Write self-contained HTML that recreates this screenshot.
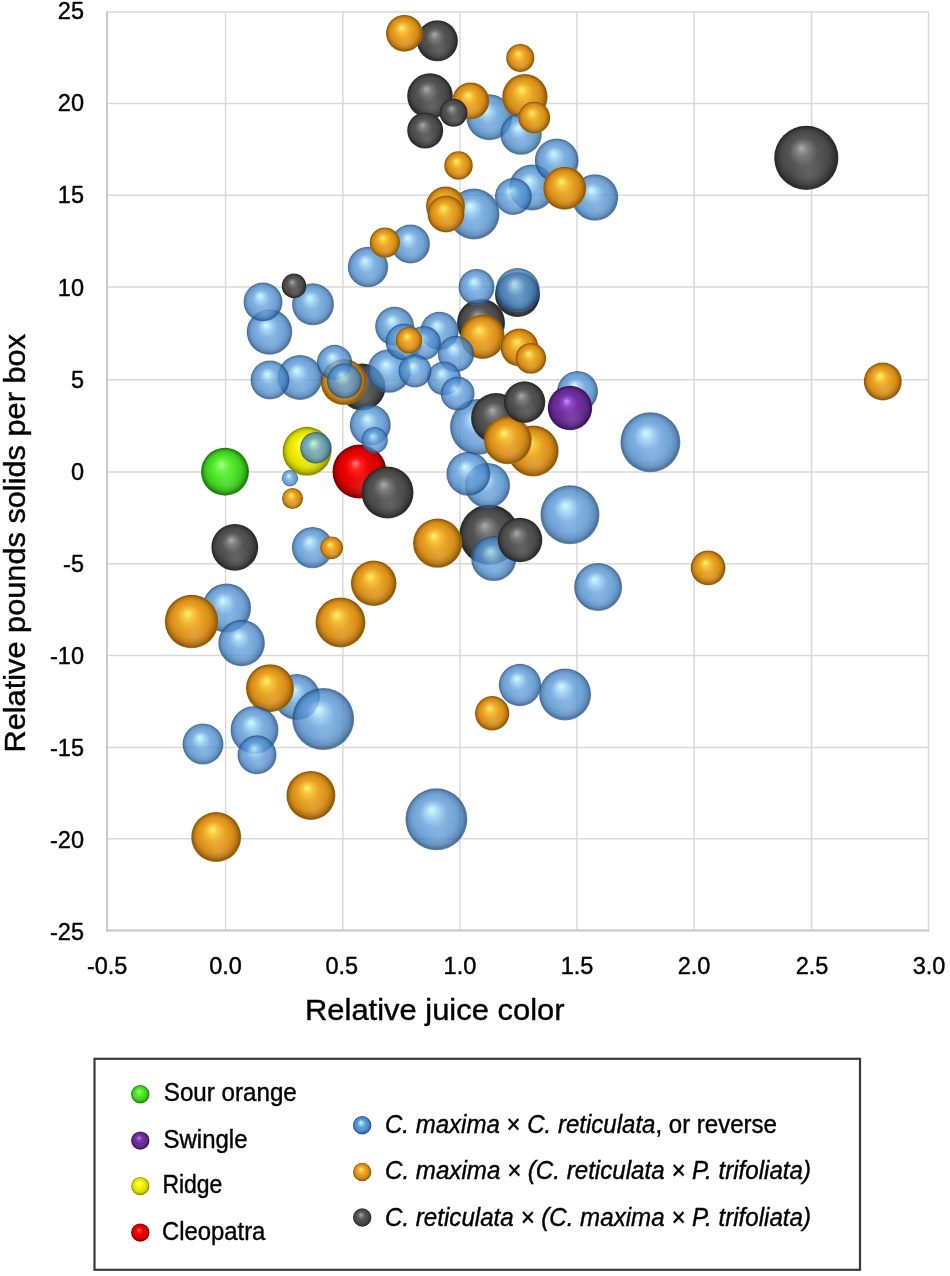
<!DOCTYPE html>
<html><head><meta charset="utf-8"><title>Bubble chart</title>
<style>
html,body{margin:0;padding:0;background:#fff;}
body{width:950px;height:1276px;overflow:hidden;}
svg{display:block;}
text{font-family:"Liberation Sans",Arial,sans-serif;fill:#000;stroke:#000;stroke-width:0.4px;}
</style></head><body>
<svg width="950" height="1276" viewBox="0 0 950 1276">
<defs>
<radialGradient id="gB" cx="0.5" cy="0.5" r="0.5" fx="0.42" fy="0.34">
<stop offset="0" stop-color="#c0ffff"/><stop offset="0.2" stop-color="#95cdf2"/><stop offset="0.45" stop-color="#5e9cdb"/>
<stop offset="0.72" stop-color="#4c8bc9"/><stop offset="0.87" stop-color="#3772ae"/><stop offset="0.96" stop-color="#224a7c"/><stop offset="1" stop-color="#3772ae"/></radialGradient>
<radialGradient id="gO" cx="0.5" cy="0.5" r="0.5" fx="0.42" fy="0.34">
<stop offset="0" stop-color="#fff47c"/><stop offset="0.2" stop-color="#f8c63e"/><stop offset="0.45" stop-color="#e9a222"/>
<stop offset="0.72" stop-color="#d78e19"/><stop offset="0.87" stop-color="#b57212"/><stop offset="0.96" stop-color="#8a580a"/><stop offset="1" stop-color="#b57212"/></radialGradient>
<radialGradient id="gG" cx="0.5" cy="0.5" r="0.5" fx="0.42" fy="0.34">
<stop offset="0" stop-color="#acacac"/><stop offset="0.2" stop-color="#7c7c7c"/><stop offset="0.45" stop-color="#555555"/>
<stop offset="0.72" stop-color="#4a4a4a"/><stop offset="0.87" stop-color="#3a3a3a"/><stop offset="0.96" stop-color="#282828"/><stop offset="1" stop-color="#3a3a3a"/></radialGradient>
<radialGradient id="gGR" cx="0.5" cy="0.5" r="0.5" fx="0.42" fy="0.34">
<stop offset="0" stop-color="#b0ff90"/><stop offset="0.2" stop-color="#70f848"/><stop offset="0.45" stop-color="#4ee82a"/>
<stop offset="0.72" stop-color="#40d020"/><stop offset="0.87" stop-color="#30a816"/><stop offset="0.96" stop-color="#1c780c"/><stop offset="1" stop-color="#30a816"/></radialGradient>
<radialGradient id="gY" cx="0.5" cy="0.5" r="0.5" fx="0.42" fy="0.34">
<stop offset="0" stop-color="#ffffa0"/><stop offset="0.2" stop-color="#ffff30"/><stop offset="0.45" stop-color="#f0f000"/>
<stop offset="0.72" stop-color="#dede00"/><stop offset="0.87" stop-color="#b8b800"/><stop offset="0.96" stop-color="#8a8a00"/><stop offset="1" stop-color="#b8b800"/></radialGradient>
<radialGradient id="gR" cx="0.5" cy="0.5" r="0.5" fx="0.42" fy="0.34">
<stop offset="0" stop-color="#ff8080"/><stop offset="0.2" stop-color="#ff2020"/><stop offset="0.45" stop-color="#ee0000"/>
<stop offset="0.72" stop-color="#d80000"/><stop offset="0.87" stop-color="#b00000"/><stop offset="0.96" stop-color="#7a0000"/><stop offset="1" stop-color="#b00000"/></radialGradient>
<radialGradient id="gP" cx="0.5" cy="0.5" r="0.5" fx="0.42" fy="0.34">
<stop offset="0" stop-color="#d090ff"/><stop offset="0.2" stop-color="#9048c8"/><stop offset="0.45" stop-color="#7030a0"/>
<stop offset="0.72" stop-color="#642a90"/><stop offset="0.87" stop-color="#502078"/><stop offset="0.96" stop-color="#381458"/><stop offset="1" stop-color="#502078"/></radialGradient>
<radialGradient id="refl" cx="0.56" cy="0.76" r="0.3">
<stop offset="0" stop-color="#fff" stop-opacity="0.12"/><stop offset="1" stop-color="#fff" stop-opacity="0"/></radialGradient>
</defs>
<g stroke="#d9d9d9" stroke-width="1.5"><line x1="225.6" y1="12" x2="225.6" y2="930.5"/><line x1="342.9" y1="12" x2="342.9" y2="930.5"/><line x1="459.9" y1="12" x2="459.9" y2="930.5"/><line x1="577" y1="12" x2="577" y2="930.5"/><line x1="694.1" y1="12" x2="694.1" y2="930.5"/><line x1="811.6" y1="12" x2="811.6" y2="930.5"/><line x1="928.5" y1="12" x2="928.5" y2="930.5"/><line x1="107" y1="12" x2="928.5" y2="12"/><line x1="107" y1="103.5" x2="928.5" y2="103.5"/><line x1="107" y1="195.3" x2="928.5" y2="195.3"/><line x1="107" y1="286.9" x2="928.5" y2="286.9"/><line x1="107" y1="379.7" x2="928.5" y2="379.7"/><line x1="107" y1="472.1" x2="928.5" y2="472.1"/><line x1="107" y1="563.7" x2="928.5" y2="563.7"/><line x1="107" y1="655.4" x2="928.5" y2="655.4"/><line x1="107" y1="747.4" x2="928.5" y2="747.4"/><line x1="107" y1="838.8" x2="928.5" y2="838.8"/></g>
<g stroke="#c4c4c4" stroke-width="1.8"><line x1="107" y1="11.2" x2="107" y2="931.5"/><line x1="106" y1="930.5" x2="929.3" y2="930.5"/></g>
<g font-size="23.5"><text x="84" y="19.4" text-anchor="end">25</text><text x="84" y="111.4" text-anchor="end">20</text><text x="84" y="203.4" text-anchor="end">15</text><text x="84" y="295.5" text-anchor="end">10</text><text x="84" y="387.5" text-anchor="end">5</text><text x="84" y="479.6" text-anchor="end">0</text><text x="84" y="571.6" text-anchor="end">-5</text><text x="84" y="663.7" text-anchor="end">-10</text><text x="84" y="755.8" text-anchor="end">-15</text><text x="84" y="847.8" text-anchor="end">-20</text><text x="84" y="939.9" text-anchor="end">-25</text><text x="107.2" y="974.4" text-anchor="middle">-0.5</text><text x="225.6" y="974.4" text-anchor="middle">0.0</text><text x="341.8" y="974.4" text-anchor="middle">0.5</text><text x="459.9" y="974.4" text-anchor="middle">1.0</text><text x="577.0" y="974.4" text-anchor="middle">1.5</text><text x="694.1" y="974.4" text-anchor="middle">2.0</text><text x="812.0" y="974.4" text-anchor="middle">2.5</text><text x="929.0" y="974.4" text-anchor="middle">3.0</text></g>
<text x="305" y="1020.4" font-size="29.5" textLength="259.5" lengthAdjust="spacingAndGlyphs">Relative juice color</text>
<text transform="translate(25.4 752.5) rotate(-90)" x="0" y="0" font-size="29.5" textLength="418.5" lengthAdjust="spacingAndGlyphs">Relative pounds solids per box</text>
<g><circle cx="225" cy="471.7" r="24" fill="url(#gGR)"/><circle cx="225" cy="471.7" r="24" fill="url(#refl)"/><circle cx="307" cy="451.3" r="24.5" fill="url(#gY)"/><circle cx="307" cy="451.3" r="24.5" fill="url(#refl)"/><circle cx="359.5" cy="471.6" r="27" fill="url(#gR)"/><circle cx="359.5" cy="471.6" r="27" fill="url(#refl)"/><circle cx="226.6" cy="608" r="24.5" fill="url(#gB)" fill-opacity="0.8"/><circle cx="226.6" cy="608" r="24.5" fill="url(#refl)"/><circle cx="297" cy="697" r="23" fill="url(#gB)" fill-opacity="0.8"/><circle cx="297" cy="697" r="23" fill="url(#refl)"/><circle cx="806.3" cy="157.9" r="32.1" fill="url(#gG)"/><circle cx="806.3" cy="157.9" r="32.1" fill="url(#refl)"/><circle cx="323.2" cy="719" r="31" fill="url(#gB)" fill-opacity="0.8"/><circle cx="323.2" cy="719" r="31" fill="url(#refl)"/><circle cx="436.4" cy="819.3" r="31" fill="url(#gB)" fill-opacity="0.8"/><circle cx="436.4" cy="819.3" r="31" fill="url(#refl)"/><circle cx="489.3" cy="534.8" r="30" fill="url(#gG)"/><circle cx="489.3" cy="534.8" r="30" fill="url(#refl)"/><circle cx="650.4" cy="442.3" r="30" fill="url(#gB)" fill-opacity="0.8"/><circle cx="650.4" cy="442.3" r="30" fill="url(#refl)"/><circle cx="570" cy="514.7" r="29.5" fill="url(#gB)" fill-opacity="0.8"/><circle cx="570" cy="514.7" r="29.5" fill="url(#refl)"/><circle cx="478" cy="427" r="28" fill="url(#gB)" fill-opacity="0.8"/><circle cx="478" cy="427" r="28" fill="url(#refl)"/><circle cx="191.6" cy="621.5" r="26.8" fill="url(#gO)"/><circle cx="191.6" cy="621.5" r="26.8" fill="url(#refl)"/><circle cx="387.5" cy="492.5" r="26" fill="url(#gG)"/><circle cx="387.5" cy="492.5" r="26" fill="url(#refl)"/><circle cx="565.1" cy="694.4" r="26" fill="url(#gB)" fill-opacity="0.8"/><circle cx="565.1" cy="694.4" r="26" fill="url(#refl)"/><circle cx="474" cy="214" r="25.5" fill="url(#gB)" fill-opacity="0.8"/><circle cx="474" cy="214" r="25.5" fill="url(#refl)"/><circle cx="533.2" cy="451" r="25.5" fill="url(#gO)"/><circle cx="533.2" cy="451" r="25.5" fill="url(#refl)"/><circle cx="340.5" cy="622.4" r="25" fill="url(#gO)"/><circle cx="340.5" cy="622.4" r="25" fill="url(#refl)"/><circle cx="496" cy="418" r="25" fill="url(#gG)"/><circle cx="496" cy="418" r="25" fill="url(#refl)"/><circle cx="216.2" cy="837" r="25" fill="url(#gO)"/><circle cx="216.2" cy="837" r="25" fill="url(#refl)"/><circle cx="437.6" cy="543.2" r="24.6" fill="url(#gO)"/><circle cx="437.6" cy="543.2" r="24.6" fill="url(#refl)"/><circle cx="310.9" cy="795.4" r="24.5" fill="url(#gO)"/><circle cx="310.9" cy="795.4" r="24.5" fill="url(#refl)"/><circle cx="481" cy="323" r="24" fill="url(#gG)"/><circle cx="481" cy="323" r="24" fill="url(#refl)"/><circle cx="598.1" cy="587" r="24" fill="url(#gB)" fill-opacity="0.8"/><circle cx="598.1" cy="587" r="24" fill="url(#refl)"/><circle cx="270" cy="688.2" r="24" fill="url(#gO)"/><circle cx="270" cy="688.2" r="24" fill="url(#refl)"/><circle cx="254.5" cy="730" r="24" fill="url(#gB)" fill-opacity="0.8"/><circle cx="254.5" cy="730" r="24" fill="url(#refl)"/><circle cx="507.8" cy="440.3" r="23.9" fill="url(#gO)"/><circle cx="507.8" cy="440.3" r="23.9" fill="url(#refl)"/><circle cx="362" cy="387" r="23.5" fill="url(#gG)"/><circle cx="362" cy="387" r="23.5" fill="url(#refl)"/><circle cx="234.8" cy="547.3" r="23.4" fill="url(#gG)"/><circle cx="234.8" cy="547.3" r="23.4" fill="url(#refl)"/><circle cx="241.6" cy="643" r="23.3" fill="url(#gB)" fill-opacity="0.8"/><circle cx="241.6" cy="643" r="23.3" fill="url(#refl)"/><circle cx="595" cy="197.5" r="23.2" fill="url(#gB)" fill-opacity="0.8"/><circle cx="595" cy="197.5" r="23.2" fill="url(#refl)"/><circle cx="489.3" cy="117.2" r="23" fill="url(#gB)" fill-opacity="0.8"/><circle cx="489.3" cy="117.2" r="23" fill="url(#refl)"/><circle cx="532" cy="187.5" r="23" fill="url(#gB)" fill-opacity="0.8"/><circle cx="532" cy="187.5" r="23" fill="url(#refl)"/><circle cx="343.8" cy="382" r="23" fill="url(#gO)"/><circle cx="343.8" cy="382" r="23" fill="url(#refl)"/><circle cx="430" cy="96" r="22.8" fill="url(#gG)"/><circle cx="430" cy="96" r="22.8" fill="url(#refl)"/><circle cx="269.5" cy="332" r="22.8" fill="url(#gB)" fill-opacity="0.8"/><circle cx="269.5" cy="332" r="22.8" fill="url(#refl)"/><circle cx="373.7" cy="583.3" r="22.8" fill="url(#gO)"/><circle cx="373.7" cy="583.3" r="22.8" fill="url(#refl)"/><circle cx="524.9" cy="96.7" r="22.7" fill="url(#gO)"/><circle cx="524.9" cy="96.7" r="22.7" fill="url(#refl)"/><circle cx="487.5" cy="485.5" r="22.6" fill="url(#gB)" fill-opacity="0.8"/><circle cx="487.5" cy="485.5" r="22.6" fill="url(#refl)"/><circle cx="493.7" cy="558.5" r="22.6" fill="url(#gB)" fill-opacity="0.8"/><circle cx="493.7" cy="558.5" r="22.6" fill="url(#refl)"/><circle cx="517.5" cy="294.5" r="22.5" fill="url(#gG)"/><circle cx="517.5" cy="294.5" r="22.5" fill="url(#refl)"/><circle cx="300" cy="377.5" r="22.5" fill="url(#gB)" fill-opacity="0.8"/><circle cx="300" cy="377.5" r="22.5" fill="url(#refl)"/><circle cx="520" cy="540" r="22.3" fill="url(#gG)"/><circle cx="520" cy="540" r="22.3" fill="url(#refl)"/><circle cx="482.6" cy="336.8" r="22.2" fill="url(#gO)"/><circle cx="482.6" cy="336.8" r="22.2" fill="url(#refl)"/><circle cx="517.7" cy="290" r="22" fill="url(#gB)" fill-opacity="0.8"/><circle cx="517.7" cy="290" r="22" fill="url(#refl)"/><circle cx="468.4" cy="473.8" r="22.0" fill="url(#gB)" fill-opacity="0.8"/><circle cx="468.4" cy="473.8" r="22.0" fill="url(#refl)"/><circle cx="556.7" cy="160.4" r="21.9" fill="url(#gB)" fill-opacity="0.8"/><circle cx="556.7" cy="160.4" r="21.9" fill="url(#refl)"/><circle cx="389" cy="371" r="21.8" fill="url(#gB)" fill-opacity="0.8"/><circle cx="389" cy="371" r="21.8" fill="url(#refl)"/><circle cx="564.7" cy="188.2" r="21.5" fill="url(#gO)"/><circle cx="564.7" cy="188.2" r="21.5" fill="url(#refl)"/><circle cx="520" cy="685" r="21.2" fill="url(#gB)" fill-opacity="0.8"/><circle cx="520" cy="685" r="21.2" fill="url(#refl)"/><circle cx="313" cy="304.3" r="21" fill="url(#gB)" fill-opacity="0.8"/><circle cx="313" cy="304.3" r="21" fill="url(#refl)"/><circle cx="521" cy="134" r="20.8" fill="url(#gB)" fill-opacity="0.8"/><circle cx="521" cy="134" r="20.8" fill="url(#refl)"/><circle cx="524.5" cy="402.1" r="20.8" fill="url(#gG)"/><circle cx="524.5" cy="402.1" r="20.8" fill="url(#refl)"/><circle cx="312.5" cy="547.6" r="20.6" fill="url(#gB)" fill-opacity="0.8"/><circle cx="312.5" cy="547.6" r="20.6" fill="url(#refl)"/><circle cx="437.4" cy="40.8" r="20.5" fill="url(#gG)"/><circle cx="437.4" cy="40.8" r="20.5" fill="url(#refl)"/><circle cx="370.3" cy="425" r="20.5" fill="url(#gB)" fill-opacity="0.8"/><circle cx="370.3" cy="425" r="20.5" fill="url(#refl)"/><circle cx="577.5" cy="391.5" r="20.5" fill="url(#gB)" fill-opacity="0.8"/><circle cx="577.5" cy="391.5" r="20.5" fill="url(#refl)"/><circle cx="203" cy="744" r="20.5" fill="url(#gB)" fill-opacity="0.8"/><circle cx="203" cy="744" r="20.5" fill="url(#refl)"/><circle cx="368" cy="267" r="20.2" fill="url(#gB)" fill-opacity="0.8"/><circle cx="368" cy="267" r="20.2" fill="url(#refl)"/><circle cx="445.5" cy="206" r="19.5" fill="url(#gO)"/><circle cx="445.5" cy="206" r="19.5" fill="url(#refl)"/><circle cx="410.5" cy="244" r="19.5" fill="url(#gB)" fill-opacity="0.8"/><circle cx="410.5" cy="244" r="19.5" fill="url(#refl)"/><circle cx="263" cy="302" r="19.5" fill="url(#gB)" fill-opacity="0.8"/><circle cx="263" cy="302" r="19.5" fill="url(#refl)"/><circle cx="270" cy="380" r="19.5" fill="url(#gB)" fill-opacity="0.8"/><circle cx="270" cy="380" r="19.5" fill="url(#refl)"/><circle cx="394.6" cy="326.3" r="19.5" fill="url(#gB)" fill-opacity="0.8"/><circle cx="394.6" cy="326.3" r="19.5" fill="url(#refl)"/><circle cx="257" cy="754.8" r="19.5" fill="url(#gB)" fill-opacity="0.8"/><circle cx="257" cy="754.8" r="19.5" fill="url(#refl)"/><circle cx="439.5" cy="331" r="19.2" fill="url(#gB)" fill-opacity="0.8"/><circle cx="439.5" cy="331" r="19.2" fill="url(#refl)"/><circle cx="519.5" cy="347.5" r="19" fill="url(#gO)"/><circle cx="519.5" cy="347.5" r="19" fill="url(#refl)"/><circle cx="882.8" cy="381.5" r="19" fill="url(#gO)"/><circle cx="882.8" cy="381.5" r="19" fill="url(#refl)"/><circle cx="470.7" cy="100.9" r="18.5" fill="url(#gO)"/><circle cx="470.7" cy="100.9" r="18.5" fill="url(#refl)"/><circle cx="513.4" cy="196.5" r="18.5" fill="url(#gB)" fill-opacity="0.8"/><circle cx="513.4" cy="196.5" r="18.5" fill="url(#refl)"/><circle cx="446" cy="214" r="18.5" fill="url(#gO)"/><circle cx="446" cy="214" r="18.5" fill="url(#refl)"/><circle cx="404" cy="342" r="18.5" fill="url(#gB)" fill-opacity="0.8"/><circle cx="404" cy="342" r="18.5" fill="url(#refl)"/><circle cx="404.4" cy="33.3" r="18.4" fill="url(#gO)"/><circle cx="404.4" cy="33.3" r="18.4" fill="url(#refl)"/><circle cx="456" cy="354" r="18.2" fill="url(#gB)" fill-opacity="0.8"/><circle cx="456" cy="354" r="18.2" fill="url(#refl)"/><circle cx="425.2" cy="130.5" r="18" fill="url(#gG)"/><circle cx="425.2" cy="130.5" r="18" fill="url(#refl)"/><circle cx="476.5" cy="287" r="18" fill="url(#gB)" fill-opacity="0.8"/><circle cx="476.5" cy="287" r="18" fill="url(#refl)"/><circle cx="334.6" cy="362.5" r="17.7" fill="url(#gB)" fill-opacity="0.8"/><circle cx="334.6" cy="362.5" r="17.7" fill="url(#refl)"/><circle cx="344.5" cy="380.9" r="17.7" fill="url(#gB)" fill-opacity="0.8"/><circle cx="344.5" cy="380.9" r="17.7" fill="url(#refl)"/><circle cx="708.1" cy="567.9" r="17.4" fill="url(#gO)"/><circle cx="708.1" cy="567.9" r="17.4" fill="url(#refl)"/><circle cx="492.2" cy="713.3" r="17.2" fill="url(#gO)"/><circle cx="492.2" cy="713.3" r="17.2" fill="url(#refl)"/><circle cx="424" cy="343" r="17" fill="url(#gB)" fill-opacity="0.8"/><circle cx="424" cy="343" r="17" fill="url(#refl)"/><circle cx="444" cy="378.4" r="17" fill="url(#gB)" fill-opacity="0.8"/><circle cx="444" cy="378.4" r="17" fill="url(#refl)"/><circle cx="457.6" cy="393.6" r="17" fill="url(#gB)" fill-opacity="0.8"/><circle cx="457.6" cy="393.6" r="17" fill="url(#refl)"/><circle cx="415" cy="371" r="16.6" fill="url(#gB)" fill-opacity="0.8"/><circle cx="415" cy="371" r="16.6" fill="url(#refl)"/><circle cx="534.2" cy="117.5" r="16" fill="url(#gO)"/><circle cx="534.2" cy="117.5" r="16" fill="url(#refl)"/><circle cx="315.9" cy="447.9" r="15.8" fill="url(#gB)" fill-opacity="0.8"/><circle cx="315.9" cy="447.9" r="15.8" fill="url(#refl)"/><circle cx="530.8" cy="358.3" r="15.4" fill="url(#gO)"/><circle cx="530.8" cy="358.3" r="15.4" fill="url(#refl)"/><circle cx="384.9" cy="242.6" r="15.2" fill="url(#gO)"/><circle cx="384.9" cy="242.6" r="15.2" fill="url(#refl)"/><circle cx="458.5" cy="165.5" r="14.3" fill="url(#gO)"/><circle cx="458.5" cy="165.5" r="14.3" fill="url(#refl)"/><circle cx="520.3" cy="58" r="14.1" fill="url(#gO)"/><circle cx="520.3" cy="58" r="14.1" fill="url(#refl)"/><circle cx="453.5" cy="112.8" r="14" fill="url(#gG)"/><circle cx="453.5" cy="112.8" r="14" fill="url(#refl)"/><circle cx="409" cy="340.3" r="13.3" fill="url(#gO)"/><circle cx="409" cy="340.3" r="13.3" fill="url(#refl)"/><circle cx="374.7" cy="440.2" r="13.2" fill="url(#gB)" fill-opacity="0.8"/><circle cx="374.7" cy="440.2" r="13.2" fill="url(#refl)"/><circle cx="294" cy="285.9" r="12.3" fill="url(#gG)"/><circle cx="294" cy="285.9" r="12.3" fill="url(#refl)"/><circle cx="331.6" cy="547.8" r="11.4" fill="url(#gO)"/><circle cx="331.6" cy="547.8" r="11.4" fill="url(#refl)"/><circle cx="292.5" cy="498.5" r="10.5" fill="url(#gO)"/><circle cx="292.5" cy="498.5" r="10.5" fill="url(#refl)"/><circle cx="289.9" cy="478.2" r="8.2" fill="url(#gB)" fill-opacity="0.8"/><circle cx="289.9" cy="478.2" r="8.2" fill="url(#refl)"/><circle cx="570" cy="408" r="22.2" fill="url(#gP)"/><circle cx="570" cy="408" r="22.2" fill="url(#refl)"/></g>
<rect x="94.5" y="1058.8" width="765.5" height="211" fill="none" stroke="#3a3a3a" stroke-width="2.2"/>
<circle cx="140.3" cy="1094.2" r="9.2" fill="url(#gGR)"/>
<circle cx="140.3" cy="1140.6" r="9.2" fill="url(#gP)"/>
<circle cx="140.3" cy="1186.1" r="9.2" fill="url(#gY)"/>
<circle cx="140.3" cy="1232.6" r="9.2" fill="url(#gR)"/>
<circle cx="362.2" cy="1125.3" r="9.2" fill="url(#gB)"/>
<circle cx="362.2" cy="1172" r="9.2" fill="url(#gO)"/>
<circle cx="362.2" cy="1217.5" r="9.2" fill="url(#gG)"/>
<g font-size="25"><text x="163.8" y="1101.1" textLength="133" lengthAdjust="spacingAndGlyphs">Sour orange</text><text x="163.5" y="1147.8" textLength="84" lengthAdjust="spacingAndGlyphs">Swingle</text><text x="162.4" y="1193.3" textLength="60" lengthAdjust="spacingAndGlyphs">Ridge</text><text x="161.9" y="1240.4" textLength="103.5" lengthAdjust="spacingAndGlyphs">Cleopatra</text><text x="385" y="1132.5" textLength="392" lengthAdjust="spacingAndGlyphs"><tspan font-style="italic">C. maxima</tspan> × <tspan font-style="italic">C. reticulata</tspan>, or reverse</text><text x="385" y="1179" font-style="italic" textLength="426" lengthAdjust="spacingAndGlyphs">C. maxima × (C. reticulata × P. trifoliata)</text><text x="385" y="1225.5" font-style="italic" textLength="426" lengthAdjust="spacingAndGlyphs">C. reticulata × (C. maxima × P. trifoliata)</text></g>
</svg></body></html>
